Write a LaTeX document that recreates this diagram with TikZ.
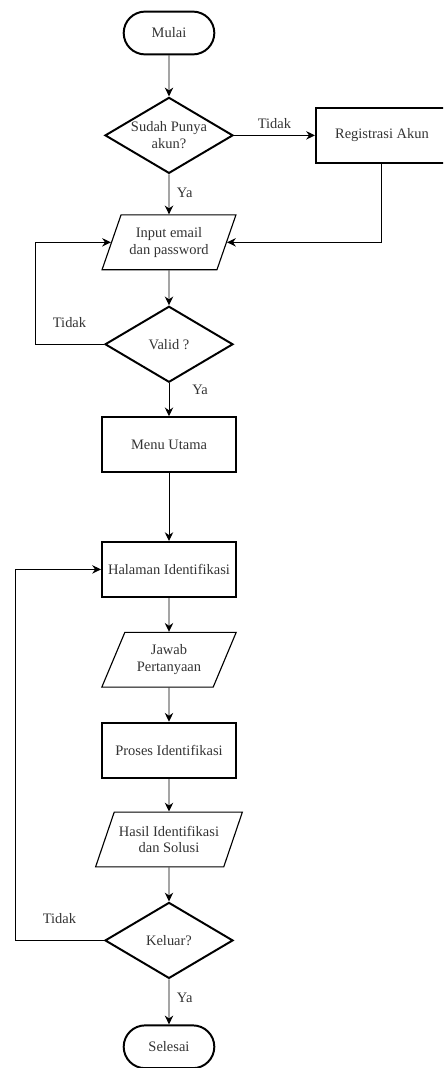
\documentclass[tikz,border=0pt]{standalone}
\usepackage{fontspec}
\setmainfont{Liberation Serif}
\usepackage{tikz}
\usetikzlibrary{shapes.geometric, shapes.misc, arrows.meta, positioning}
\tikzset{startstop/.style={rounded rectangle,draw,line width=1.4pt,minimum width=2.5cm,minimum height=1.07cm,align=center},
         process/.style={rectangle,draw,line width=1.4pt,minimum width=3.35cm,minimum height=1.37cm,align=center},
         decision/.style={diamond,draw,line width=1.4pt,aspect=1.67,inner sep=0pt,minimum width=3.2cm,minimum height=1.9cm,align=center},
         io/.style={trapezium,draw,line width=0.8pt,trapezium left angle=66,trapezium right angle=114,trapezium stretches=true,minimum width=3.37cm,minimum height=1.37cm,align=center},
         arrow/.style={-{Stealth[length=2.2mm,width=2.1mm]},line width=0.7pt}}

\begin{document}
\begin{tikzpicture}[every node/.append style={font=\fontsize{10.3}{12}\selectfont,text=black!80}]
    \clip (0,0) rectangle (11.075,-26.7);
    \node (mulai) [startstop] at (4.225,-0.825) {Mulai};
    \node (punya) [decision, below=1.025cm of mulai] {Sudah Punya\\akun?};
    \node (registrasi) [process, right=2.025cm of punya, minimum width=3.3cm] {Registrasi Akun};
    \node (input) [io, below=1.0cm of punya] {Input email\\dan password};
    \node (valid) [decision, below=0.875cm of input] {Valid ?};
    \node (menu) [process, below=0.825cm of valid] {Menu Utama};
    \node (halaman) [process, below=1.7cm of menu] {Halaman Identifikasi};
    \node (jawab) [io, below=0.85cm of halaman, trapezium left angle=64, trapezium right angle=116] {Jawab\\Pertanyaan};
    \node (proses) [process, below=0.85cm of jawab] {Proses Identifikasi};
    \node (hasil) [io, below=0.825cm of proses, minimum width=3.52cm, trapezium left angle=63, trapezium right angle=117] {Hasil Identifikasi\\dan Solusi};
    \node (keluar) [decision, below=0.85cm of hasil] {Keluar?};
    \node (selesai) [startstop, below=1.125cm of keluar] {Selesai};
    \draw[arrow] (mulai) -- (punya);
    \draw[arrow] (punya) -- node[above=1pt]{Tidak} (registrasi);
    \draw[arrow] (punya) -- node[right=2pt,pos=0.45]{Ya} (input);
    \draw[arrow] (registrasi.south) |- (input.east);
    \draw[arrow] (input) -- (valid);
    \draw[arrow] (valid.west) -- node[above=8pt]{Tidak} ++(-1.725,0) |- (input.west);
    \draw[arrow] (valid) -- node[right=13pt,pos=0.2]{Ya} (menu);
    \draw[arrow] (menu) -- (halaman);
    \draw[arrow] (halaman) -- (jawab);
    \draw[arrow] (jawab) -- (proses);
    \draw[arrow] (proses) -- (hasil);
    \draw[arrow] (hasil) -- (keluar);
    \draw[arrow] (keluar.west) -- node[above=8pt]{Tidak} ++(-2.225,0) |- (halaman.west);
    \draw[arrow] (keluar) -- node[right=2pt,pos=0.4]{Ya} (selesai);
  \end{tikzpicture}
\end{document}
